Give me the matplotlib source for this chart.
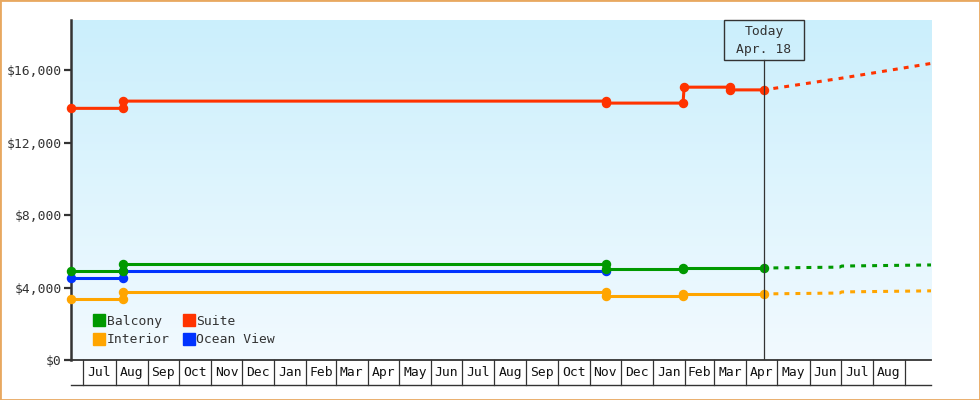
import matplotlib
matplotlib.use('Agg')
import matplotlib.pyplot as plt
import matplotlib.dates as mdates
from matplotlib.patches import Rectangle
from matplotlib.lines import Line2D
from matplotlib.colors import LinearSegmentedColormap
import numpy as np
from datetime import datetime

plt.rcParams['font.family'] = ['DejaVu Sans Mono', 'DejaVu Sans']

# ---------------- data ----------------
series_names = ['Balcony', 'Suite', 'Interior', 'Ocean View']
series_colors = ['#009900', '#FF3300', '#FFA500', '#0033FF']

balcony_dates = ['2012-06-19', '2012-08-08', '2012-08-08', '2013-11-17', '2013-11-17',
                 '2014-01-30', '2014-01-30', '2014-04-18']
balcony_values = [4940, 4940, 5300, 5300, 5040, 5040, 5080, 5080]

suite_dates = ['2012-06-19', '2012-08-08', '2012-08-08', '2013-11-17', '2013-11-17',
               '2014-01-30', '2014-01-31', '2014-03-16', '2014-03-16', '2014-04-18']
suite_values = [13900, 13900, 14300, 14300, 14190, 14190, 15070, 15070, 14920, 14920]

interior_dates = ['2012-06-19', '2012-08-08', '2012-08-08', '2013-11-17', '2013-11-17',
                  '2014-01-30', '2014-01-30', '2014-04-18']
interior_values = [3380, 3380, 3740, 3740, 3560, 3560, 3650, 3650]

oceanview_dates = ['2012-06-19', '2012-08-08', '2012-08-08', '2013-11-17']
oceanview_values = [4540, 4540, 4940, 4940]

# forecasts (dotted)
balcony_fc_dates = ['2014-04-18', '2014-06-30', '2014-07-02', '2014-09-26']
balcony_fc_values = [5080, 5130, 5190, 5250]
suite_fc_dates = ['2014-04-18', '2014-07-01', '2014-09-26']
suite_fc_values = [14920, 15560, 16380]
interior_fc_dates = ['2014-04-18', '2014-06-30', '2014-07-02', '2014-09-26']
interior_fc_values = [3650, 3700, 3760, 3820]

month_labels = ['Jul', 'Aug', 'Sep', 'Oct', 'Nov', 'Dec', 'Jan', 'Feb', 'Mar', 'Apr', 'May', 'Jun',
                'Jul', 'Aug', 'Sep', 'Oct', 'Nov', 'Dec', 'Jan', 'Feb', 'Mar', 'Apr', 'May', 'Jun',
                'Jul', 'Aug']
first_month = (2012, 7)

y_ticks = [0, 4000, 8000, 12000, 16000]
y_tick_labels = [r'\$0', r'\$4,000', r'\$8,000', r'\$12,000', r'\$16,000']

x_start = '2012-06-19'
x_end = '2014-09-26'
today = '2014-04-18'
today_label = ['Today', 'Apr. 18']
y_max = 18780

# ---------------- drawing ----------------
def d(s):
    return mdates.date2num(datetime.strptime(s, '%Y-%m-%d'))

TXT = '#333333'
FS = 9.4

fig = plt.figure(figsize=(9.8, 4.0), dpi=100)
ax = fig.add_axes([71 / 980, 40 / 400, 860 / 980, 340 / 400])
ax.set_facecolor('none')

# gradient background
cmap = LinearSegmentedColormap.from_list('bg', ['#CBEFFC', '#F2FAFF'])
ax.imshow(np.linspace(0, 1, 256).reshape(-1, 1), cmap=cmap, extent=[0, 1, 0, 1],
          transform=ax.transAxes, aspect='auto', zorder=0)

actual = [
    (oceanview_dates, oceanview_values, 3),
    (interior_dates, interior_values, 2),
    (balcony_dates, balcony_values, 0),
    (suite_dates, suite_values, 1),
]
for dates, vals, idx in actual:
    ax.plot([d(s) for s in dates], vals, color=series_colors[idx], lw=2.2,
            marker='o', ms=5.8, mec=series_colors[idx], mfc=series_colors[idx],
            zorder=3, clip_on=False, solid_capstyle='butt')

forecasts = [
    (interior_fc_dates, interior_fc_values, 2),
    (balcony_fc_dates, balcony_fc_values, 0),
    (suite_fc_dates, suite_fc_values, 1),
]
for dates, vals, idx in forecasts:
    ax.plot([d(s) for s in dates], vals, color=series_colors[idx], lw=2.2,
            linestyle=(0.5, (1.6, 2.0)), zorder=3, dash_capstyle='butt')

ax.set_xlim(d(x_start), d(x_end))
ax.set_ylim(0, y_max)

# axes styling
for s in ['top', 'right']:
    ax.spines[s].set_visible(False)
ax.spines['left'].set_linewidth(1.8)
ax.spines['left'].set_color(TXT)
ax.spines['bottom'].set_linewidth(1.3)
ax.spines['bottom'].set_color(TXT)
ax.set_yticks(y_ticks)
ax.set_yticklabels(y_tick_labels)
ax.tick_params(axis='y', length=5, width=1.6, color=TXT, labelsize=FS, labelcolor=TXT, pad=1.5)
ax.set_xticks([])

# month strip below x axis
strip_h = 25 / 340
xt = ax.get_xaxis_transform()
y0, m0 = first_month
month_starts = []
for i in range(len(month_labels) + 1):
    m = m0 - 1 + i
    month_starts.append(mdates.date2num(datetime(y0 + m // 12, m % 12 + 1, 1)))
for ms_ in month_starts:
    ax.plot([ms_, ms_], [0, -strip_h], color=TXT, lw=0.9, transform=xt, clip_on=False)
for i, lab in enumerate(month_labels):
    mid = (month_starts[i] + month_starts[i + 1]) / 2
    ax.text(mid, -strip_h / 2, lab, transform=xt, ha='center', va='center',
            fontsize=FS, color='#111111')
ax.add_line(Line2D([0, 1], [-strip_h, -strip_h], transform=ax.transAxes, color=TXT,
                   lw=1.0, clip_on=False))

# today marker
t = d(today)
box_bottom = (360 - 60) / 340
ax.plot([t, t], [0, box_bottom], color=TXT, lw=0.9, transform=xt, zorder=4)
ax.add_patch(Rectangle((t - 39, box_bottom), 78, 1 - box_bottom, transform=xt, fill=False,
                       edgecolor=TXT, lw=1.0, clip_on=False, zorder=4))
ax.text(t, (360 - 31) / 340, today_label[0], transform=xt, ha='center', va='center',
        fontsize=FS, color=TXT)
ax.text(t, (360 - 50) / 340, today_label[1], transform=xt, ha='center', va='center',
        fontsize=FS, color=TXT)

# legend: rows Balcony/Suite, Interior/Ocean View (matplotlib fills column-wise)
order = [0, 2, 1, 3]
handles = [Line2D([], [], linestyle='none', marker='s', ms=8, color=series_colors[i]) for i in order]
labels = [series_names[i] for i in order]
leg = ax.legend(handles, labels, ncol=2, loc='lower left', bbox_to_anchor=(0.027, 0.04),
                frameon=False, handlelength=0.8, handletextpad=0.15, columnspacing=1.1,
                labelspacing=0.45, borderpad=0, borderaxespad=0, fontsize=FS)
for txt in leg.get_texts():
    txt.set_color(TXT)

# orange border
fig.patches.append(Rectangle((0, 0), 1, 1, transform=fig.transFigure, fill=False,
                             edgecolor='#E8A860', lw=2.0))

fig.savefig('out.png', dpi=100)
